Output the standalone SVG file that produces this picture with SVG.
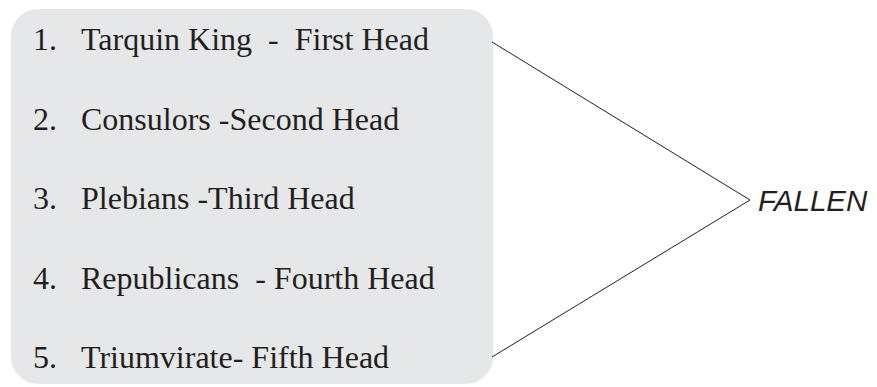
<svg xmlns="http://www.w3.org/2000/svg" width="877" height="387" viewBox="0 0 877 387">
<style>
.item{font-family:"Liberation Serif","Times New Roman",serif;font-size:32px;fill:#231f20;white-space:pre}
.lbl{font-family:"Liberation Sans",Arial,sans-serif;font-size:29.5px;font-style:italic;fill:#231f20}
.conn{stroke:#231f20;stroke-width:1;fill:none}
</style>
<rect width="877" height="387" fill="#ffffff"/>
<g id="list">
<rect x="11" y="9" width="482" height="375" rx="27" ry="27" fill="#e6e7e8"/>
<g id="item1"><text class="item" x="33" y="50">1.</text><text class="item" x="81" y="50" xml:space="preserve">Tarquin King  -  First Head</text></g>
<g id="item2"><text class="item" x="33" y="129.5">2.</text><text class="item" x="81" y="129.5">Consulors -Second Head</text></g>
<g id="item3"><text class="item" x="33" y="209">3.</text><text class="item" x="81" y="209">Plebians -Third Head</text></g>
<g id="item4"><text class="item" x="33" y="288.5">4.</text><text class="item" x="81" y="288.5" xml:space="preserve">Republicans  - Fourth Head</text></g>
<g id="item5"><text class="item" x="33" y="368">5.</text><text class="item" x="81" y="368">Triumvirate- Fifth Head</text></g>
</g>
<g id="connectors">
<polyline class="conn" points="492,42 750,200 492,357"/>
</g>
<g id="fallen"><text class="lbl" x="758" y="211">FALLEN</text></g>
</svg>
